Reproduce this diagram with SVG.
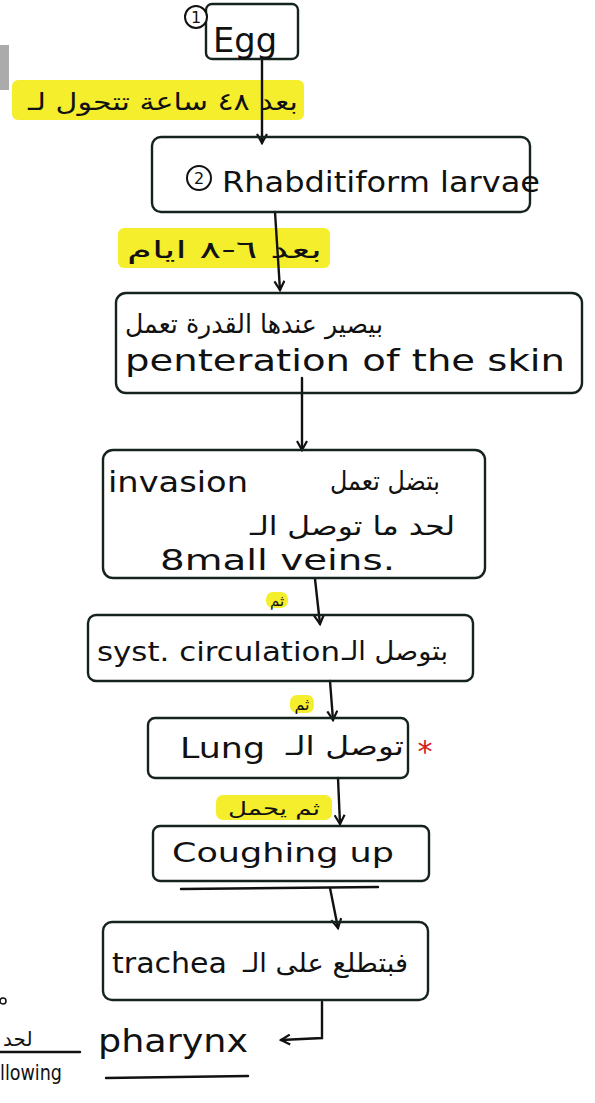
<svg xmlns="http://www.w3.org/2000/svg" width="595" height="1103" viewBox="0 0 595 1103">
<defs>
<style>
.box{fill:none;stroke:#14231b;stroke-width:2.4;stroke-linejoin:round}
.hl{fill:#f4ee2c}
.en{font-family:"DejaVu Sans","Liberation Sans",sans-serif;fill:#111;}
.ar{font-family:"DejaVu Sans","Noto Sans",sans-serif;fill:#111;}
.ln{fill:none;stroke:#111;stroke-width:2.4;stroke-linecap:round}
</style>
<marker id="ah" viewBox="0 0 12 12" refX="10" refY="6" markerWidth="12" markerHeight="12" markerUnits="userSpaceOnUse" orient="auto">
<path d="M1,1 L10,6 L1,11" fill="none" stroke="#111" stroke-width="2.2"/>
</marker>
</defs>
<rect width="595" height="1103" fill="#fff"/>
<rect x="0" y="45" width="9" height="45" fill="#888" opacity="0.7"/>

<g id="highlights">
<rect class="hl" x="12" y="80" width="292" height="40" rx="6"/>
<rect class="hl" x="118" y="228" width="212" height="40" rx="6"/>
<rect class="hl" x="266" y="592" width="22" height="16" rx="7"/>
<rect class="hl" x="290" y="695" width="24" height="18" rx="7"/>
<rect class="hl" x="216" y="795" width="116" height="25" rx="7"/>
</g>

<g id="connectors">
<line class="ln" x1="262" y1="58" x2="262" y2="143" marker-end="url(#ah)"/>
<line class="ln" x1="275" y1="212" x2="280" y2="290" marker-end="url(#ah)"/>
<line class="ln" x1="302" y1="378" x2="302" y2="450" marker-end="url(#ah)"/>
<line class="ln" x1="315" y1="579" x2="320" y2="624" marker-end="url(#ah)"/>
<line class="ln" x1="330" y1="681" x2="333" y2="720" marker-end="url(#ah)"/>
<line class="ln" x1="338" y1="778" x2="340" y2="824" marker-end="url(#ah)"/>
<line class="ln" x1="330" y1="888" x2="338" y2="928" marker-end="url(#ah)"/>
<polyline class="ln" points="322,1002 322,1038 281,1040" marker-end="url(#ah)"/>
</g>

<g id="n1">
<rect class="box" x="206" y="4" width="92" height="55" rx="6"/>
<circle cx="196" cy="17" r="11" fill="#fff" stroke="#111" stroke-width="2"/>
<text class="en" x="196" y="23" font-size="16" text-anchor="middle">1</text>
<text class="en" x="213" y="52" font-size="34" textLength="64" lengthAdjust="spacingAndGlyphs">Egg</text>
</g>
<g id="l1">
<text class="ar" x="298" y="110" font-size="24" text-anchor="end" textLength="270" lengthAdjust="spacingAndGlyphs">بعد ٤٨ ساعة تتحول لـ</text>
</g>

<g id="n2">
<rect class="box" x="152" y="137" width="378" height="75" rx="9"/>
<circle cx="199" cy="178" r="12" fill="none" stroke="#111" stroke-width="2"/>
<text class="en" x="199" y="184" font-size="16" text-anchor="middle">2</text>
<text class="en" x="222" y="192" font-size="28" textLength="318" lengthAdjust="spacingAndGlyphs">Rhabditiform larvae</text>
</g>
<g id="l2">
<text class="ar" x="322" y="258" font-size="24" text-anchor="end" textLength="195" lengthAdjust="spacingAndGlyphs">بعد ٦-٨ ايام</text>
</g>

<g id="n3">
<rect class="box" x="116" y="293" width="466" height="100" rx="10"/>
<text class="ar" x="125" y="333" font-size="26" textLength="258" lengthAdjust="spacingAndGlyphs">بيصير عندها القدرة تعمل</text>
<text class="en" x="125" y="371" font-size="30" textLength="440" lengthAdjust="spacingAndGlyphs">penteration of the skin</text>
</g>

<g id="n4">
<rect class="box" x="103" y="450" width="382" height="128" rx="10"/>
<text class="en" x="108" y="492" font-size="28" textLength="140" lengthAdjust="spacingAndGlyphs">invasion</text>
<text class="ar" x="440" y="490" font-size="26" text-anchor="end" textLength="110" lengthAdjust="spacingAndGlyphs">بتضل تعمل</text>
<text class="ar" x="455" y="535" font-size="26" text-anchor="end" textLength="205" lengthAdjust="spacingAndGlyphs">لحد ما توصل الـ</text>
<text class="en" x="160" y="570" font-size="28" textLength="235" lengthAdjust="spacingAndGlyphs">8mall veins.</text>
</g>
<g id="l3"><text class="ar" x="277" y="606" font-size="15" text-anchor="middle">ثم</text></g>

<g id="n5">
<rect class="box" x="88" y="615" width="385" height="66" rx="8"/>
<text class="en" x="97" y="661" font-size="27" textLength="243" lengthAdjust="spacingAndGlyphs">syst. circulation</text>
<text class="ar" x="448" y="660" font-size="26" text-anchor="end" textLength="106" lengthAdjust="spacingAndGlyphs">بتوصل الـ</text>
</g>
<g id="l4"><text class="ar" x="302" y="710" font-size="16" text-anchor="middle">ثم</text></g>

<g id="n6">
<rect class="box" x="148" y="718" width="260" height="60" rx="7"/>
<text class="en" x="180" y="758" font-size="28" textLength="85" lengthAdjust="spacingAndGlyphs">Lung</text>
<text class="ar" x="404" y="755" font-size="26" text-anchor="end" textLength="118" lengthAdjust="spacingAndGlyphs">توصل الـ</text>
<text x="425" y="762" font-family="DejaVu Sans,sans-serif" font-size="30" fill="#d42020" text-anchor="middle">*</text>
</g>
<g id="l5"><text class="ar" x="274" y="815" font-size="19" text-anchor="middle" textLength="92" lengthAdjust="spacingAndGlyphs">ثم يحمل</text></g>

<g id="n7">
<rect class="box" x="153" y="826" width="276" height="55" rx="7"/>
<text class="en" x="172" y="862" font-size="27" textLength="222" lengthAdjust="spacingAndGlyphs">Coughing up</text>
<line class="ln" x1="181" y1="889" x2="378" y2="887" stroke-width="2"/>
</g>

<g id="n8">
<rect class="box" x="103" y="922" width="325" height="78" rx="9"/>
<text class="en" x="112" y="973" font-size="28" textLength="115" lengthAdjust="spacingAndGlyphs">trachea</text>
<text class="ar" x="408" y="972" font-size="26" text-anchor="end" textLength="165" lengthAdjust="spacingAndGlyphs">فبتطلع على الـ</text>
</g>

<g id="n9">
<text class="en" x="98" y="1052" font-size="32" textLength="150" lengthAdjust="spacingAndGlyphs">pharynx</text>
<line class="ln" x1="106" y1="1078" x2="248" y2="1076" stroke-width="2"/>
</g>

<g id="partial">
<circle cx="3" cy="1001" r="3" fill="none" stroke="#111" stroke-width="1.5"/>
<text class="ar" x="3" y="1046" font-size="20">لحد</text>
<line class="ln" x1="0" y1="1052" x2="80" y2="1052" stroke-width="1.8"/>
<text class="en" x="0" y="1080" font-size="22" textLength="62" lengthAdjust="spacingAndGlyphs">llowing</text>
</g>
</svg>
